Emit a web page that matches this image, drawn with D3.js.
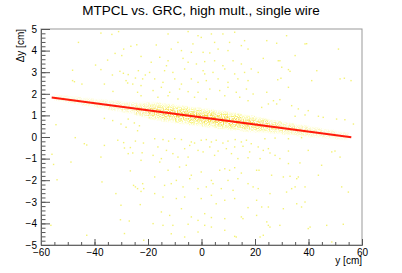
<!DOCTYPE html>
<html>
<head>
<meta charset="utf-8">
<script src="https://cdnjs.cloudflare.com/ajax/libs/d3/7.8.5/d3.min.js"></script>
<style>
  body { margin: 0; background: #fff; }
  svg text { font-family: "Liberation Sans", Arial, sans-serif; }
</style>
</head>
<body>
<script>
// chart text
var titleText = "MTPCL vs. GRC, high mult., single wire";
var xTitle = "y [cm]";
var yTitle = "\u0394y [cm]";

// axes
var xMajorTicks = [-60, -40, -20, 0, 20, 40, 60];
var yMajorTicks = [-5, -4, -3, -2, -1, 0, 1, 2, 3, 4, 5];

// straight line fit: p0 + p1 * x, drawn over fitRange
var fitParams = [0.91, -0.0165];
var fitRange = [-56, 56];

// dense band along the fit, read per 5 cm column
var bandX = [-55, -50, -45, -40, -35, -30, -25, -20, -15, -10, -5, 0, 5, 10, 15, 20, 25, 30, 35, 40, 45, 50, 55];
var bandCenter = [1.84, 1.75, 1.66, 1.58, 1.50, 1.41, 1.33, 1.25, 1.16, 1.08, 0.99, 0.91, 0.83, 0.75, 0.66, 0.58, 0.50, 0.42, 0.33, 0.25, 0.17, 0.09, 0.01];
var bandHalf = [0.15, 0.18, 0.20, 0.22, 0.25, 0.28, 0.30, 0.42, 0.45, 0.45, 0.45, 0.45, 0.45, 0.45, 0.42, 0.40, 0.35, 0.32, 0.30, 0.28, 0.25, 0.22, 0.20];
var bandDensity = [0.25, 0.25, 0.3, 0.3, 0.35, 0.4, 0.45, 0.75, 0.85, 0.9, 0.95, 1.0, 1.0, 1.0, 0.9, 0.8, 0.7, 0.6, 0.5, 0.45, 0.35, 0.3, 0.25];

// isolated entries away from the band
var scatterX = [
  -37.6, -33.5, -31.0, -46.0, -26.4, -24.2, -29.1, -32.3, -22.6, -29.8, -35.1, -39.6, -48.2, -37.6, -30.5, -23.6, -27.4, -29.2, -33.3, -21.0,
  -24.7, -48.2, -47.5, -44.7, -36.3, -28.2, -27.6, -25.7, -22.6, -22.0, -33.1, -23.9, -22.6, -36.3, -30.1, -27.4, -25.1, -23.2, -54.4, -33.2,
  -23.9, -28.2,
  -12.5, -5.0, -1.3, -0.1, 3.7, 8.0, 12.4, 16.1, 14.9, -16.9, -8.8, -7.5, -11.3, -3.8, 0.6, 3.1, 6.2, 9.9, 17.4, -15.6,
  -12.5, -6.9, -5.0, -1.9, 1.2, 4.9, 8.0, 11.8, 14.9, 18.6, -13.8, -10.7, -6.3, 0.6, 1.2, 4.3, 8.7, 12.4, 16.1, -17.5,
  -14.4, -10.0, -7.5, -3.8, -1.3, 1.8, 6.2, 9.9, 13.6, 17.4, -18.1, -15.0, -11.9, -8.2, -5.0, -1.3, 3.1, 6.8, 9.9, 13.0,
  16.8, 19.3, -16.3, -12.5, -8.8, -2.6, 1.8, 8.7, 14.3, 17.4, -19.4, -18.8, 10.5, -3.2, 4.9, -13.1,
  31.8, 24.4, 28.1, 38.7, 39.3, 51.2, 23.1, 35.0, 28.7, 29.3, 30.0, 21.2, 32.5, 33.1, 43.1, 28.5, 29.7, 41.2, 51.8, 53.4,
  55.9, 32.5, 24.4, 26.9, 29.3, 28.1, 25.0, 22.5, 33.7, 36.2, 39.9, 43.7, 45.5, 50.5, 53.6, 56.8, 35.0, 38.7,
  -47.2, -43.8, -42.9, -36.3, -31.3, -29.1, -24.7, -21.7, -28.8, -26.6, -27.4, -25.7, -22.2, -22.6, -55.9, -55.3, -48.8, -37.6, -26.6, -54.0,
  -37.2, -25.4, -24.7, -22.0, -23.9, -21.6, -22.6, -32.0, -30.1, -22.9, -30.3, -27.0, -56.3, -28.8, -42.9, -21.6,
  -17.5, -14.4, -12.3, -10.0, -7.5, -3.8, -2.6, -0.1, 1.8, 3.7, 5.5, 8.0, 9.9, 12.6, 14.9, 16.8, 18.6, -16.3, -13.1, -10.7,
  -6.3, -4.4, -1.3, 0.6, 3.1, 6.2, 9.3, 12.4, 15.5, 18.0, -18.1, -15.0, -8.8, -5.0, 4.9, 11.2, 13.6, 17.4,
  -15.6, -12.5, -8.2, -5.7, -3.8, -4.4, -0.1, 3.7, 6.8, 8.7, 10.5, 12.4, 13.6, 14.9, 17.4, -13.8, -11.3, -6.9, -1.3, 1.8,
  4.3, 7.4, 9.9, 11.8, 19.3, -17.5, -9.4,
  -17.5, -14.4, -9.4, -6.3, -0.1, 3.7, 5.5, 8.7, 12.4, 17.4, -15.0, -11.9, -7.5, -3.8, 1.2, 3.7, 8.7, 14.9, 15.5, -18.1,
  -14.4, -10.7, -5.0, -1.3, 1.2, 3.7, 8.7, 12.4, 13.0, -11.3, -6.3, -1.3,
  23.7, 27.5, 32.5, 37.4, 21.2, 23.1, 25.0, 25.6, 27.5, 32.5, 39.9, 48.7, 49.9, 51.8, 21.9, 29.3, 32.5, 36.8, 44.9, 20.6,
  21.5, 26.2, 30.6, 33.1, 35.6, 36.2, 43.7, 21.2, 25.6, 31.8, 33.7, 35.0, 38.7, 52.4, 54.9, 20.6, 22.5, 25.0, 30.6, 35.6,
  37.4, 38.7, 20.6, 24.4, 25.0, 25.6, 29.3, 39.9, 40.6, 46.8, 53.0, 23.1, 21.9, 48.7
];
var scatterY = [
  4.81, 4.75, 4.88, 4.38, 4.20, 4.27, 4.07, 3.87, 3.73, 3.77, 3.56, 3.33, 3.09, 3.12, 3.04, 3.07, 2.89, 2.95, 2.87, 2.87,
  2.73, 2.61, 2.56, 2.45, 2.45, 2.61, 2.50, 2.45, 2.38, 2.69, 2.11, 2.07, 1.91, 0.86, 0.60, 0.83, 0.65, 0.52, 0.57, 0.76,
  0.29, 0.45,
  4.77, 4.88, 4.69, 4.61, 4.77, 4.77, 4.85, 4.46, 4.23, 4.26, 4.38, 4.00, 4.07, 3.92, 3.92, 3.89, 4.07, 4.00, 4.07, 3.69,
  3.53, 3.64, 3.46, 3.38, 3.49, 3.53, 3.30, 3.53, 3.38, 3.15, 3.07, 2.99, 3.15, 3.07, 2.92, 2.99, 3.15, 2.92, 2.99, 2.69,
  2.53, 2.69, 2.45, 2.69, 2.53, 2.61, 2.69, 2.53, 2.69, 2.61, 2.15, 2.30, 2.07, 2.22, 2.10, 2.07, 2.22, 2.15, 2.30, 2.07,
  2.22, 1.99, 1.84, 1.91, 1.76, 1.84, 1.76, 1.91, 1.84, 1.68, 2.99, 3.46, 4.38, 4.31, 4.38, 3.30,
  4.69, 4.46, 4.34, 4.31, 4.32, 4.07, 3.64, 3.77, 3.53, 3.53, 3.23, 2.99, 3.12, 3.04, 3.07, 2.65, 2.72, 2.61, 2.69, 2.72,
  2.61, 2.30, 2.07, 1.68, 1.73, 1.53, 1.53, 1.37, 1.45, 1.30, 1.22, 0.96, 0.91, 0.83, 0.80, 0.60, 0.96, 1.02,
  -0.03, -0.31, -0.37, -0.39, -0.15, -0.26, -0.19, -0.28, -0.51, -0.49, -0.77, -0.74, -0.73, -1.08, -0.80, -1.27, -1.16, -0.93, -1.57, -1.98,
  -2.08, -2.24, -2.31, -2.16, -2.39, -2.39, -2.52, -2.62, -3.16, -3.13, -3.83, -3.89, -4.09, -4.47, -4.55, -4.78,
  -0.08, -0.12, -0.19, -0.08, -0.12, -0.23, -0.28, -0.15, -0.12, -0.23, -0.15, -0.28, -0.19, -0.12, -0.23, -0.15, -0.31, -0.46, -0.62, -0.77,
  -0.54, -0.39, -0.62, -0.69, -0.46, -0.65, -0.54, -0.46, -0.43, -0.69, -0.85, -1.00, -0.93, -0.93, -0.85, -0.77, -1.00, -0.96,
  -1.16, -1.54, -1.39, -1.31, -1.77, -1.93, -1.62, -2.01, -1.54, -1.47, -1.54, -1.42, -1.93, -1.67, -2.16, -2.24, -2.16, -2.31, -2.39, -2.31,
  -2.16, -2.39, -2.01, -2.47, -2.31, -1.85, -2.01,
  -2.62, -2.78, -2.85, -2.78, -2.85, -2.70, -3.09, -2.93, -2.85, -3.27, -3.47, -3.63, -3.32, -3.70, -3.55, -3.73, -3.78, -3.70, -3.78, -4.01,
  -4.09, -4.09, -4.04, -3.86, -4.09, -4.17, -4.32, -4.60, -4.63, -4.48, -4.63, -4.40,
  -0.08, -0.05, -0.08, -0.03, -0.46, -0.62, -0.54, -0.74, -0.85, -0.65, -0.62, -0.69, -0.65, -0.93, -1.00, -1.00, -1.23, -1.20, -1.31, -1.54,
  -1.54, -1.77, -1.85, -1.82, -1.93, -1.85, -1.77, -2.39, -2.62, -2.55, -2.39, -2.31, -2.31, -2.31, -2.55, -2.93, -3.24, -3.24, -3.32, -3.09,
  -3.24, -3.01, -3.63, -3.93, -4.09, -4.17, -4.09, -4.24, -4.17, -4.09, -4.04, -4.55, -4.63, -4.86
];

var width = 402, height = 273;
var frame = { left: 41, right: 362, top: 29, bottom: 245 };

var svg = d3.select("body").append("svg")
    .attr("width", width)
    .attr("height", height);

var x = d3.scaleLinear().domain([-60, 60]).range([frame.left, frame.right]);
var y = d3.scaleLinear().domain([-5, 5]).range([frame.bottom, frame.top]);

var defs = svg.append("defs");

var grad = defs.append("linearGradient")
    .attr("id", "bandFill")
    .attr("x1", 0).attr("y1", 0).attr("x2", 0).attr("y2", 1);
grad.append("stop").attr("offset", 0).attr("stop-color", "#ffff70").attr("stop-opacity", 0);
grad.append("stop").attr("offset", 0.22).attr("stop-color", "#f4f03a").attr("stop-opacity", 0.7);
grad.append("stop").attr("offset", 0.5).attr("stop-color", "#f2c020").attr("stop-opacity", 1);
grad.append("stop").attr("offset", 0.78).attr("stop-color", "#f4f03a").attr("stop-opacity", 0.7);
grad.append("stop").attr("offset", 1).attr("stop-color", "#ffff70").attr("stop-opacity", 0);

// speckle texture so the band reads as single entries
var speckle = defs.append("filter").attr("id", "speckle");
speckle.append("feTurbulence")
    .attr("type", "fractalNoise")
    .attr("baseFrequency", 0.85)
    .attr("numOctaves", 1)
    .attr("seed", 4)
    .attr("result", "noise");
speckle.append("feColorMatrix")
    .attr("in", "noise")
    .attr("type", "matrix")
    .attr("values", "0 0 0 0 0  0 0 0 0 0  0 0 0 0 0  3.2 0 0 0 -1.1")
    .attr("result", "mask");
speckle.append("feComposite")
    .attr("in", "SourceGraphic")
    .attr("in2", "mask")
    .attr("operator", "in");

// band segments
var segs = d3.range(bandX.length - 1);
svg.append("g")
    .attr("filter", "url(#speckle)")
    .selectAll("path")
    .data(segs)
    .enter()
    .append("path")
    .attr("d", function (i) {
        var j = i + 1;
        return "M" + x(bandX[i]) + "," + y(bandCenter[i] + bandHalf[i]) +
            "L" + x(bandX[j]) + "," + y(bandCenter[j] + bandHalf[j]) +
            "L" + x(bandX[j]) + "," + y(bandCenter[j] - bandHalf[j]) +
            "L" + x(bandX[i]) + "," + y(bandCenter[i] - bandHalf[i]) + "Z";
    })
    .attr("fill", "url(#bandFill)")
    .attr("opacity", function (i) {
        return (bandDensity[i] + bandDensity[i + 1]) / 2;
    });

// isolated entries
svg.append("g")
    .selectAll("rect")
    .data(scatterX)
    .enter()
    .append("rect")
    .attr("x", function (d) { return x(d) - 0.7; })
    .attr("y", function (d, i) { return y(scatterY[i]) - 0.7; })
    .attr("width", 1.4)
    .attr("height", 1.4)
    .attr("fill", "#f2f05a")
    .attr("opacity", 0.85);

// fit line
svg.append("line")
    .attr("x1", x(fitRange[0]))
    .attr("y1", y(fitParams[0] + fitParams[1] * fitRange[0]))
    .attr("x2", x(fitRange[1]))
    .attr("y2", y(fitParams[0] + fitParams[1] * fitRange[1]))
    .attr("stroke", "#ff1a0a")
    .attr("stroke-width", 2);

// frame
svg.append("rect")
    .attr("x", frame.left)
    .attr("y", frame.top)
    .attr("width", frame.right - frame.left)
    .attr("height", frame.bottom - frame.top)
    .attr("fill", "none")
    .attr("stroke", "#999")
    .attr("stroke-width", 1);

var minorX = d3.range(-60, 60.1, 5);
var minorY = d3.range(-5, 5.01, 0.2);

function styleAxis(g) {
    g.selectAll(".domain").attr("stroke", "#666");
    g.selectAll(".tick line").attr("stroke", "#555");
    g.selectAll("text").attr("fill", "#000").attr("font-size", "10px")
        .attr("font-family", "Liberation Sans, Arial, sans-serif");
}

svg.append("g")
    .attr("transform", "translate(0," + frame.bottom + ")")
    .call(d3.axisBottom(x).tickValues(minorX).tickSize(-3).tickSizeOuter(0).tickFormat(""))
    .call(styleAxis);
svg.append("g")
    .attr("transform", "translate(0," + frame.bottom + ")")
    .call(d3.axisBottom(x).tickValues(xMajorTicks).tickSize(-6).tickSizeOuter(0).tickPadding(4))
    .call(styleAxis);

svg.append("g")
    .attr("transform", "translate(" + frame.left + ",0)")
    .call(d3.axisLeft(y).tickValues(minorY).tickSize(-4.5).tickSizeOuter(0).tickFormat(""))
    .call(styleAxis);
svg.append("g")
    .attr("transform", "translate(" + frame.left + ",0)")
    .call(d3.axisLeft(y).tickValues(yMajorTicks).tickSize(-9).tickSizeOuter(0).tickPadding(4))
    .call(styleAxis);

// titles
svg.append("text")
    .attr("x", 201)
    .attr("y", 15)
    .attr("text-anchor", "middle")
    .attr("font-size", "13.5px")
    .text(titleText);

svg.append("text")
    .attr("x", frame.right)
    .attr("y", 264)
    .attr("text-anchor", "end")
    .attr("font-size", "10px")
    .text(xTitle);

svg.append("text")
    .attr("transform", "translate(23.5," + frame.top + ") rotate(-90)")
    .attr("text-anchor", "end")
    .attr("font-size", "10px")
    .text(yTitle);
</script>
</body>
</html>
